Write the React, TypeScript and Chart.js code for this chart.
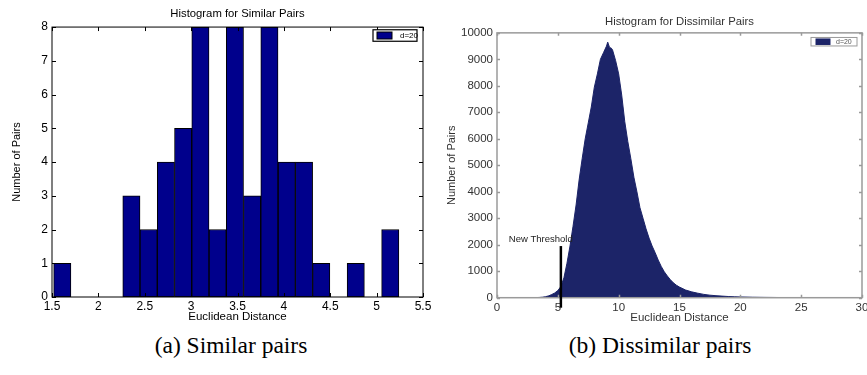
import React, { useEffect, useRef } from "react";
import { Chart, registerables } from "chart.js";

Chart.register(...registerables);
Chart.defaults.font.family = '"Liberation Sans", Arial, Helvetica, sans-serif';

// ---------- (a) Similar pairs ----------
const simTitle = "Histogram for Similar Pairs";
const simBinCenters = [
  1.611, 1.797, 1.983, 2.169, 2.356, 2.542, 2.728, 2.914, 3.1, 3.286,
  3.472, 3.658, 3.844, 4.031, 4.217, 4.403, 4.589, 4.775, 4.961, 5.147,
];
const simCounts = [1, 0, 0, 0, 3, 2, 4, 5, 8, 2, 8, 3, 8, 4, 4, 1, 0, 1, 0, 2];
const simXTicks = [1.5, 2, 2.5, 3, 3.5, 4, 4.5, 5, 5.5];
const simYTicks = [0, 1, 2, 3, 4, 5, 6, 7, 8];

// ---------- (b) Dissimilar pairs ----------
const disTitle = "Histogram for Dissimilar Pairs";
const disX = [
  0, 3, 3.25, 3.5, 3.75, 4, 4.25, 4.5, 4.75, 5, 5.25, 5.5, 5.75, 6, 6.25, 6.5,
  6.75, 7, 7.25, 7.5, 7.75, 8, 8.25, 8.5, 8.75, 9, 9.1, 9.25, 9.4, 9.5, 9.75, 10,
  10.25, 10.5, 10.75, 11, 11.25, 11.5, 11.75, 12, 12.25, 12.5, 12.75, 13, 13.25,
  13.5, 13.75, 14, 14.25, 14.5, 14.75, 15, 15.5, 16, 16.5, 17, 17.5, 18, 18.5, 19,
  19.5, 20, 21, 22, 23, 24, 25, 26, 27, 30,
];
const disY = [
  0, 0, 5, 10, 20, 40, 70, 120, 180, 270, 420, 750, 1300, 1950, 2700, 3500,
  4450, 5250, 6000, 6600, 7200, 7950, 8450, 9000, 9250, 9500, 9650, 9450, 9420,
  9350, 8950, 8450, 7650, 6650, 5900, 5250, 4550, 4000, 3400, 3000, 2600, 2250,
  1950, 1700, 1420, 1180, 980, 820, 680, 560, 470, 400, 290, 220, 170, 125, 95,
  75, 60, 45, 35, 28, 18, 12, 8, 5, 3, 1, 0, 0,
];
const disXTicks = [0, 5, 10, 15, 20, 25, 30];
const disYTicks = [0, 1000, 2000, 3000, 4000, 5000, 6000, 7000, 8000, 9000, 10000];
const thresholdX = 5.25;
const thresholdTop = 1950;
const thresholdLabel = "New Threshold";
const thresholdLabelX = 3.6;
const thresholdLabelY = 2200;

const legendLabel = "d=20";
const xAxisLabel = "Euclidean Distance";
const yAxisLabel = "Number of Pairs";
const captionA = "(a) Similar pairs";
const captionB = "(b) Dissimilar pairs";

// Box + inward ticks + legend plugin
const boxPlugin = {
  id: "boxTicks",
  afterDatasetsDraw(chart: any, _args: any, opts: any) {
    const { ctx, chartArea: a, scales } = chart;
    ctx.save();
    ctx.strokeStyle = opts.color;
    ctx.lineWidth = opts.width;
    ctx.strokeRect(a.left, a.top, a.right - a.left, a.bottom - a.top);
    const L = opts.len;
    ctx.beginPath();
    scales.x.ticks.forEach((t: any) => {
      const px = Math.round(scales.x.getPixelForValue(t.value)) + 0.5;
      ctx.moveTo(px, a.bottom);
      ctx.lineTo(px, a.bottom - L);
      ctx.moveTo(px, a.top);
      ctx.lineTo(px, a.top + L);
    });
    scales.y.ticks.forEach((t: any) => {
      const py = Math.round(scales.y.getPixelForValue(t.value)) + 0.5;
      ctx.moveTo(a.left, py);
      ctx.lineTo(a.left + L, py);
      ctx.moveTo(a.right, py);
      ctx.lineTo(a.right - L, py);
    });
    ctx.stroke();

    // legend
    const ds = chart.data.datasets[0];
    const lg = opts.legend;
    const x1 = a.right - lg.marginRight - lg.w;
    const y1 = a.top + lg.marginTop;
    ctx.fillStyle = "#fff";
    ctx.fillRect(x1, y1, lg.w, lg.h);
    ctx.strokeStyle = lg.border;
    ctx.lineWidth = lg.borderWidth;
    ctx.strokeRect(x1, y1, lg.w, lg.h);
    ctx.fillStyle = ds.backgroundColor;
    ctx.fillRect(x1 + lg.swX, y1 + (lg.h - lg.swH) / 2, lg.swW, lg.swH);
    ctx.strokeStyle = lg.swBorder;
    ctx.lineWidth = 1;
    ctx.strokeRect(x1 + lg.swX, y1 + (lg.h - lg.swH) / 2, lg.swW, lg.swH);
    ctx.fillStyle = lg.textColor;
    ctx.font = `${lg.fontSize}px "Liberation Sans", Arial, sans-serif`;
    ctx.textBaseline = "middle";
    ctx.textAlign = "left";
    ctx.fillText(ds.label, x1 + lg.textX, y1 + lg.h / 2 + 0.5);
    ctx.restore();
  },
};

const thresholdPlugin = {
  id: "threshold",
  afterDatasetsDraw(chart: any, _args: any, opts: any) {
    if (!opts || !opts.enabled) return;
    const { ctx, scales } = chart;
    const px = scales.x.getPixelForValue(thresholdX);
    const yTop = scales.y.getPixelForValue(thresholdTop);
    const yBot = scales.y.getPixelForValue(0) + 10;
    ctx.save();
    ctx.strokeStyle = "#000";
    ctx.lineWidth = 2.5;
    ctx.beginPath();
    ctx.moveTo(px, yTop);
    ctx.lineTo(px, yBot);
    ctx.stroke();
    ctx.fillStyle = "#222";
    ctx.font = '9.5px "Liberation Sans", Arial, sans-serif';
    ctx.textAlign = "center";
    ctx.textBaseline = "middle";
    ctx.fillText(
      thresholdLabel,
      scales.x.getPixelForValue(thresholdLabelX),
      scales.y.getPixelForValue(thresholdLabelY)
    );
    ctx.restore();
  },
};

function SimilarChart() {
  const ref = useRef<HTMLCanvasElement>(null);
  useEffect(() => {
    const chart = new Chart(ref.current as HTMLCanvasElement, {
      type: "bar",
      data: {
        datasets: [
          {
            label: legendLabel,
            data: simBinCenters.map((x, i) => ({ x, y: simCounts[i] })),
            backgroundColor: "#00008C",
            borderColor: "#000",
            borderWidth: 1,
            borderSkipped: false,
            barPercentage: 1,
            categoryPercentage: 1,
          } as any,
        ],
      },
      options: {
        responsive: false,
        animation: false,
        events: [],
        layout: { padding: { left: 0, right: 17, top: 0, bottom: 0 } },
        plugins: {
          legend: { display: false },
          tooltip: { enabled: false },
          title: {
            display: true,
            fullSize: false,
            text: simTitle,
            color: "#000",
            font: { size: 11.3, weight: "normal" },
            padding: { top: 7.5, bottom: 6 },
          },
          boxTicks: {
            color: "#000",
            width: 1,
            len: 4,
            legend: {
              w: 44, h: 11.5, marginRight: 6, marginTop: 2.7,
              swX: 4, swW: 15, swH: 7, textX: 27, fontSize: 8,
              border: "#000", borderWidth: 1.2, swBorder: "#000", textColor: "#000",
            },
          },
        } as any,
        scales: {
          x: {
            type: "linear",
            min: 1.5,
            max: 5.5,
            offset: false,
            afterBuildTicks: (s: any) => {
              s.ticks = simXTicks.map((v) => ({ value: v }));
            },
            afterFit: (s: any) => {
              s.height = 33;
            },
            ticks: {
              autoSkip: false,
              maxRotation: 0,
              padding: 2,
              color: "#000",
              font: { size: 12 },
              callback: (v: any) => String(v),
            },
            grid: { display: false, drawTicks: false, tickLength: 0 },
            border: { display: false },
            title: {
              display: true,
              text: xAxisLabel,
              color: "#000",
              font: { size: 11.5 },
              padding: { top: 0, bottom: 6 },
            },
          },
          y: {
            type: "linear",
            min: 0,
            max: 8,
            afterBuildTicks: (s: any) => {
              s.ticks = simYTicks.map((v) => ({ value: v }));
            },
            afterFit: (s: any) => {
              s.width = 52;
            },
            ticks: {
              padding: 4,
              color: "#000",
              font: { size: 12 },
              callback: (v: any) => String(v),
            },
            grid: { display: false, drawTicks: false, tickLength: 0 },
            border: { display: false },
            title: {
              display: true,
              text: yAxisLabel,
              color: "#000",
              font: { size: 11 },
              padding: { top: 10.5, bottom: 0 },
            },
          },
        },
      } as any,
      plugins: [boxPlugin],
    });
    return () => chart.destroy();
  }, []);
  return (
    <canvas
      ref={ref}
      width={440}
      height={330}
      style={{ position: "absolute", left: 0, top: 0, width: 440, height: 330 }}
    />
  );
}

function DissimilarChart() {
  const ref = useRef<HTMLCanvasElement>(null);
  useEffect(() => {
    const chart = new Chart(ref.current as HTMLCanvasElement, {
      type: "line",
      data: {
        datasets: [
          {
            label: legendLabel,
            data: disX.map((x, i) => ({ x, y: disY[i] })),
            backgroundColor: "#1c2468",
            borderColor: "#1c2468",
            borderWidth: 1,
            pointRadius: 0,
            tension: 0,
            fill: "origin",
          } as any,
        ],
      },
      options: {
        responsive: false,
        animation: false,
        events: [],
        layout: { padding: { left: 0, right: 18, top: 0, bottom: 0 } },
        plugins: {
          legend: { display: false },
          tooltip: { enabled: false },
          title: {
            display: true,
            fullSize: false,
            text: disTitle,
            color: "#333",
            font: { size: 11.3, weight: "normal" },
            padding: { top: 15.3, bottom: 4 },
          },
          boxTicks: {
            color: "#9a9a9a",
            width: 1.5,
            len: 3,
            legend: {
              w: 46, h: 8.5, marginRight: 5, marginTop: 4.6,
              swX: 5, swW: 14, swH: 5.5, textX: 25, fontSize: 7,
              border: "#9a9a9a", borderWidth: 1, swBorder: "#1c2468", textColor: "#555",
            },
          },
          threshold: { enabled: true },
        } as any,
        scales: {
          x: {
            type: "linear",
            min: 0,
            max: 30,
            afterBuildTicks: (s: any) => {
              s.ticks = disXTicks.map((v) => ({ value: v }));
            },
            afterFit: (s: any) => {
              s.height = 32.3;
            },
            ticks: {
              autoSkip: false,
              maxRotation: 0,
              padding: 3,
              color: "#333",
              font: { size: 11.5 },
              callback: (v: any) => String(v),
            },
            grid: { display: false, drawTicks: false, tickLength: 0 },
            border: { display: false },
            title: {
              display: true,
              text: xAxisLabel,
              color: "#333",
              font: { size: 11.5 },
              padding: { top: 0, bottom: 5 },
            },
          },
          y: {
            type: "linear",
            min: 0,
            max: 10000,
            afterBuildTicks: (s: any) => {
              s.ticks = disYTicks.map((v) => ({ value: v }));
            },
            afterFit: (s: any) => {
              s.width = 57;
            },
            ticks: {
              padding: 4,
              color: "#333",
              font: { size: 11.5 },
              callback: (v: any) => String(v),
            },
            grid: { display: false, drawTicks: false, tickLength: 0 },
            border: { display: false },
            title: {
              display: true,
              text: yAxisLabel,
              color: "#333",
              font: { size: 11 },
              padding: { top: 5, bottom: 0 },
            },
          },
        },
      } as any,
      plugins: [boxPlugin, thresholdPlugin],
    });
    return () => chart.destroy();
  }, []);
  return (
    <canvas
      ref={ref}
      width={440}
      height={330}
      style={{ position: "absolute", left: 440, top: 0, width: 440, height: 330 }}
    />
  );
}

export default function App() {
  useEffect(() => {
    document.body.style.margin = "0";
  }, []);
  const capStyle: React.CSSProperties = {
    position: "absolute",
    top: 332,
    width: 300,
    textAlign: "center",
    fontFamily: '"Liberation Serif", "Times New Roman", serif',
    fontSize: 23.5,
    lineHeight: "26px",
    color: "#000",
    whiteSpace: "nowrap",
  };
  return (
    <div
      style={{
        position: "relative",
        width: 867,
        height: 375,
        overflow: "hidden",
        background: "#fff",
      }}
    >
      <SimilarChart />
      <DissimilarChart />
      <div style={{ ...capStyle, left: 231 - 150 }}>{captionA}</div>
      <div style={{ ...capStyle, left: 660 - 150 }}>{captionB}</div>
    </div>
  );
}
